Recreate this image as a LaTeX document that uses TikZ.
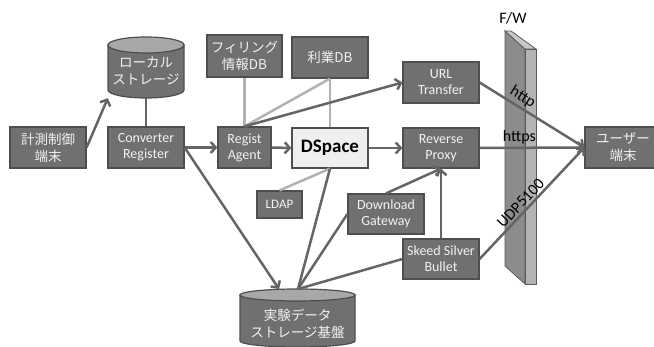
\documentclass[tikz,border=0pt]{standalone}
\usepackage{fontspec}
\setmainfont{Carlito}
\newfontfamily\jp{Noto Sans CJK JP}
\usetikzlibrary{arrows.meta}
\definecolor{boxfill}{HTML}{707070}
\definecolor{boxline}{HTML}{4E4E4E}
\definecolor{boxtext}{HTML}{F2F2F2}
\definecolor{cyltop}{HTML}{A8A8A8}
\definecolor{arrcol}{HTML}{656565}
\definecolor{lightln}{HTML}{B2B2B2}
\definecolor{dsfill}{HTML}{EFEFEF}
\definecolor{wallfront}{HTML}{8C8C8C}
\definecolor{walltop}{HTML}{C8C8C8}
\definecolor{wallside}{HTML}{B4B4B4}
\definecolor{walledge}{HTML}{5A5A5A}
\begin{document}
\begin{tikzpicture}[x=1pt,y=-1pt,
  box/.style={draw=boxline, line width=1.2pt, fill=boxfill, text=boxtext,
    minimum width=76pt, minimum height=41pt, inner sep=1pt, align=center,
    font=\fontsize{14}{16}\selectfont},
  jbox/.style={box, font=\jp\fontsize{13.5}{17}\selectfont},
  ctext/.style={text=boxtext, align=center, inner sep=0pt, font=\jp\fontsize{13.5}{17}\selectfont},
  area/.style={inner sep=0pt, draw=none},
  arr/.style={draw=arrcol, line width=2.5pt, -{Straight Barb[length=5pt,width=11pt]}},
  ln/.style={draw=arrcol, line width=2.5pt},
  lightl/.style={draw=lightln, line width=2.5pt},
  lbl/.style={text=black, inner sep=2pt, font=\fontsize{16}{18}\selectfont},
  cyl/.style={fill=boxfill, draw=boxline, line width=1.2pt},
  cyltopst/.style={fill=cyltop, draw=boxline, line width=1.2pt}
]
\useasboundingbox (0,0) rectangle (654,347);

% firewall
\path[fill=wallfront, draw=walledge, line width=0.8pt] (505,31) -- (525,49) -- (525,284) -- (505,266) -- cycle;
\path[fill=walltop, draw=walledge, line width=0.8pt] (505,31) -- (511,31) -- (536,49) -- (525,49) -- cycle;
\path[fill=wallside, draw=walledge, line width=0.8pt] (525,49) -- (536,49) -- (536,284) -- (525,284) -- cycle;
\node[lbl] (fw) at (513,18) {F/W};

% local storage cylinder
\path[cyl] (108,45) -- (108,90) arc[start angle=180, end angle=360, x radius=38pt, y radius=8pt] -- (184,45) -- cycle;
\path[cyltopst] (146,45) ellipse [x radius=38pt, y radius=8pt];
\node[area, minimum width=76pt, minimum height=61pt] (local) at (146,67.5) {};
\node[ctext] (localtxt) at (146,71) {ローカル\\ストレージ};

% experiment data storage cylinder
\path[cyl] (240,295) -- (240,341) arc[start angle=180, end angle=360, x radius=57.5pt, y radius=6pt] -- (355,295) -- cycle;
\path[cyltopst] (297.5,295) ellipse [x radius=57.5pt, y radius=6pt];
\node[area, minimum width=115pt, minimum height=58pt] (exp) at (297.5,318) {};
\node[ctext] (exptxt) at (297.5,324) {実験データ\\ストレージ基盤};
\coordinate (expA) at (279,289);
\coordinate (expB) at (298,289);

% boxes
\node[jbox] (keisoku) at (48,147.5) {計測制御\\端末};
\node[box] (conv) at (146,147.5) {Converter\\Register};
\node[jbox, minimum width=75pt, minimum height=42pt] (fil) at (244.5,56) {フィリング\\情報DB};
\node[jbox] (riyou) at (330,57.5) {利業DB};
\node[box, minimum width=53pt] (regist) at (244.5,147.5) {Regist\\Agent};
\node[box, fill=dsfill, text=black, minimum height=40pt, font=\bfseries\fontsize{19}{20}\selectfont] (dspace) at (330,148) {DSpace};
\node[box] (url) at (441,82.5) {URL\\Transfer};
\node[box, minimum height=40pt] (rp) at (441,148) {Reverse\\Proxy};
\node[box, minimum width=45pt, minimum height=27pt, font=\fontsize{13}{14}\selectfont] (ldap) at (279.5,204.5) {LDAP};
\node[box, minimum height=40pt] (dl) at (386,214) {Download\\Gateway};
\node[box, minimum height=40pt] (skeed) at (441,259) {Skeed Silver\\Bullet};
\node[jbox] (user) at (623,147.5) {ユーザー\\端末};

% light connectors
\draw[lightl] (fil.south) -- (regist.north);
\draw[lightl] (riyou.south) -- (regist.north);
\draw[lightl] (riyou.south) -- (dspace.north);
\draw[lightl] (dspace.south) -- (ldap.north);

% dark connectors
\draw[arr] (keisoku.east) -- (local.south west);
\draw[ln] (local.south) -- (conv.north);
\draw[arr] (conv.east) -- (regist.west);
\draw[arr] (conv.east) -- (expA);
\draw[arr] (regist.east) -- (dspace.west);
\draw[arr] (regist.north) -- (url.west);
\draw[arr] (dspace.east) -- (rp.west);
\draw[ln] (dspace.south) -- (expB);
\draw[ln] (dl.west) -- (expB);
\draw[ln] (skeed.west) -- (expB);
\draw[arr] (dl.north) -- (rp.south);
\draw[arr] (skeed.north) -- (rp.south);
\draw[arr] (url.east) -- node[lbl, sloped, above, pos=0.36] {http} (user.west);
\draw[arr] (rp.east) -- node[lbl, above, pos=0.38] {https} (user.west);
\draw[arr] (skeed.east) -- node[lbl, sloped, above, pos=0.45] {UDP5100} (user.west);
\end{tikzpicture}
\end{document}
